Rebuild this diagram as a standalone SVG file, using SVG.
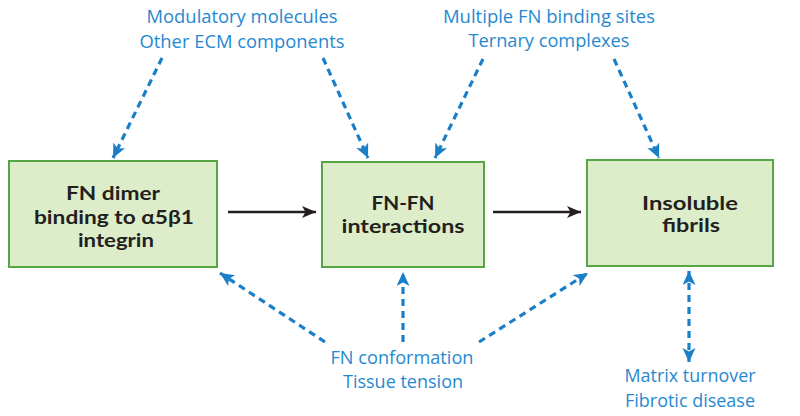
<svg xmlns="http://www.w3.org/2000/svg" width="800" height="416" viewBox="0 0 800 416">
<style>
.box{fill:#ddedc9;stroke:#55a744;stroke-width:2}
.nt{font-family:Lato,"Open Sans",sans-serif;font-weight:bold;font-size:19.5px;fill:#231f20;text-anchor:middle}
.lb{font-family:"Open Sans","Noto Sans",sans-serif;font-size:19px;fill:#2689cf;text-anchor:middle}
.dash{fill:none;stroke:#1b7fc7;stroke-width:3.2;stroke-dasharray:7 5}
.solid{fill:none;stroke:#231f20;stroke-width:2.5}
</style>
<defs>
<marker id="bh" markerUnits="userSpaceOnUse" markerWidth="16" markerHeight="14" refX="14" refY="6.5" orient="auto-start-reverse" viewBox="0 0 16 14">
<path d="M0,0 L14,6.5 L0,13 L3.5,6.5 z" fill="#1b7fc7"/>
</marker>
<marker id="kh" markerUnits="userSpaceOnUse" markerWidth="16" markerHeight="14" refX="14" refY="6" orient="auto" viewBox="0 0 16 14">
<path d="M0,0 L14,6 L0,12 L3.5,6 z" fill="#231f20"/>
</marker>
</defs>
<g id="connectors">
<line class="solid" x1="228" y1="212" x2="316" y2="212" marker-end="url(#kh)"/>
<line class="solid" x1="493" y1="212" x2="581" y2="212" marker-end="url(#kh)"/>
<line class="dash" x1="162" y1="58" x2="113" y2="158" marker-end="url(#bh)"/>
<line class="dash" x1="323" y1="58" x2="368" y2="158" marker-end="url(#bh)"/>
<line class="dash" x1="483" y1="59" x2="435" y2="158" marker-end="url(#bh)"/>
<line class="dash" x1="614" y1="59" x2="659" y2="158" marker-end="url(#bh)"/>
<line class="dash" x1="325" y1="342" x2="220" y2="273" marker-end="url(#bh)"/>
<line class="dash" x1="403" y1="342" x2="403" y2="272" marker-end="url(#bh)"/>
<line class="dash" x1="479" y1="342" x2="588" y2="273" marker-end="url(#bh)"/>
<line class="dash" x1="689" y1="271" x2="689" y2="362" marker-start="url(#bh)" marker-end="url(#bh)"/>
</g>
<g id="node1">
<rect class="box" x="9" y="161" width="208" height="106"/>
<text class="nt" x="113" y="200" textLength="94" lengthAdjust="spacingAndGlyphs">FN dimer</text>
<text class="nt" x="114" y="224" textLength="160" lengthAdjust="spacingAndGlyphs">binding to α5β1</text>
<text class="nt" x="116" y="247" textLength="76" lengthAdjust="spacingAndGlyphs">integrin</text>
</g>
<g id="node2">
<rect class="box" x="322" y="162" width="162" height="105"/>
<text class="nt" x="403" y="210" textLength="63" lengthAdjust="spacingAndGlyphs">FN-FN</text>
<text class="nt" x="403" y="233" textLength="123" lengthAdjust="spacingAndGlyphs">interactions</text>
</g>
<g id="node3">
<rect class="box" x="587" y="160" width="186" height="106"/>
<text class="nt" x="690" y="210" textLength="96" lengthAdjust="spacingAndGlyphs">Insoluble</text>
<text class="nt" x="691" y="232" textLength="58" lengthAdjust="spacingAndGlyphs">fibrils</text>
</g>
<g id="label-top-left">
<text class="lb" x="242" y="23" textLength="191" lengthAdjust="spacingAndGlyphs">Modulatory molecules</text>
<text class="lb" x="242" y="48" textLength="205" lengthAdjust="spacingAndGlyphs">Other ECM components</text>
</g>
<g id="label-top-right">
<text class="lb" x="549" y="23" textLength="212" lengthAdjust="spacingAndGlyphs">Multiple FN binding sites</text>
<text class="lb" x="549" y="47" textLength="161" lengthAdjust="spacingAndGlyphs">Ternary complexes</text>
</g>
<g id="label-bottom">
<text class="lb" x="402" y="364" textLength="143" lengthAdjust="spacingAndGlyphs">FN conformation</text>
<text class="lb" x="403" y="388" textLength="120" lengthAdjust="spacingAndGlyphs">Tissue tension</text>
</g>
<g id="label-bottom-right">
<text class="lb" x="690" y="382" textLength="131" lengthAdjust="spacingAndGlyphs">Matrix turnover</text>
<text class="lb" x="690" y="407" textLength="130" lengthAdjust="spacingAndGlyphs">Fibrotic disease</text>
</g>
</svg>
